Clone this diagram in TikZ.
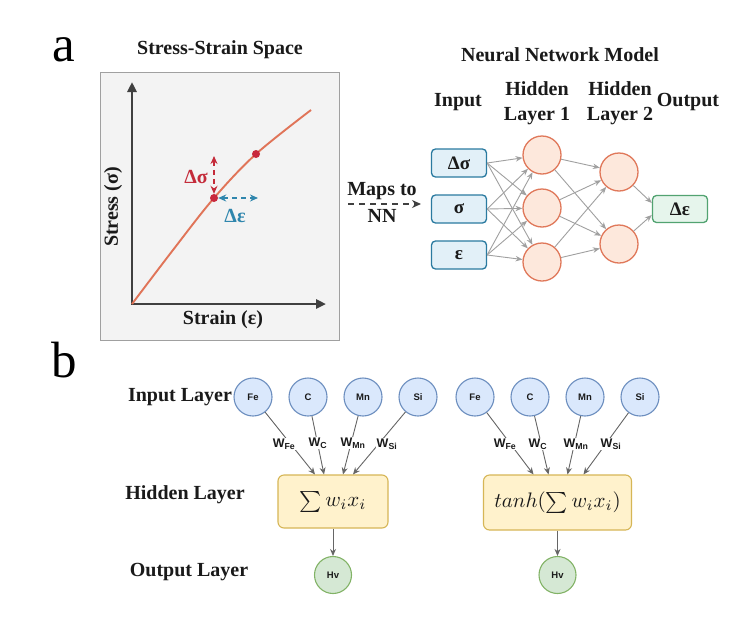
\RequirePackage{fix-cm}
\documentclass[tikz,border=0pt]{standalone}
\usepackage{graphicx}
\usepackage[no-math]{fontspec}
\setmainfont{Liberation Serif}
\newfontfamily\sansf{Liberation Sans}
\usetikzlibrary{arrows.meta,calc}
\definecolor{plotbg}{HTML}{F3F3F3}
\definecolor{plotframe}{HTML}{A0A0A0}
\definecolor{axisgray}{HTML}{404040}
\definecolor{curvec}{HTML}{E07458}
\definecolor{dotred}{HTML}{C8283C}
\definecolor{sigred}{HTML}{C42B3A}
\definecolor{epsblue}{HTML}{2F86AD}
\definecolor{inblue}{HTML}{2A7AA0}
\definecolor{infill}{HTML}{E2F0F8}
\definecolor{hidline}{HTML}{E0785A}
\definecolor{hidfill}{HTML}{FDE8DC}
\definecolor{outline}{HTML}{52A371}
\definecolor{outfill}{HTML}{E6F5EC}
\definecolor{nngray}{HTML}{A0A0A0}
\definecolor{bblue}{HTML}{6C8EBF}
\definecolor{bbluefill}{HTML}{DAE8FC}
\definecolor{byellow}{HTML}{D6B656}
\definecolor{byellowfill}{HTML}{FFF2CC}
\definecolor{bgreen}{HTML}{82B366}
\definecolor{bgreenfill}{HTML}{D5E8D4}
\definecolor{bedgec}{HTML}{666666}
\definecolor{txt}{HTML}{1A1A1A}
\begin{document}
\begin{tikzpicture}[x=1pt,y=-1pt,
  lbl/.style={font=\fontsize{20}{25}\selectfont\bfseries, text=txt, align=center, inner sep=0pt},
  panel/.style={font=\fontsize{51}{55}\selectfont, text=black, inner sep=0pt},
  inbox/.style={draw=inblue, fill=infill, line width=1.3pt, rounded corners=4pt,
    minimum width=55pt, minimum height=28pt, inner sep=0pt,
    font=\fontsize{19}{22}\selectfont\bfseries, text=txt},
  outbox/.style={draw=outline, fill=outfill, line width=1.3pt, rounded corners=4pt,
    minimum width=55pt, minimum height=27pt, inner sep=0pt,
    font=\fontsize{19}{22}\selectfont\bfseries, text=txt},
  hid/.style={circle, draw=hidline, fill=hidfill, line width=1.3pt, minimum size=38pt, inner sep=0pt},
  nnarrow/.style={draw=nngray, line width=0.9pt, -{Stealth[length=7pt,width=5.5pt]}},
  dot/.style={circle, fill=dotred, minimum size=8pt, inner sep=0pt},
  axisline/.style={draw=axisgray, line width=2.5pt, line join=miter,
    {Triangle[length=10pt,width=9pt]}-{Triangle[length=10pt,width=9pt]}},
  sigarr/.style={draw=sigred, line width=1.6pt, dash pattern=on 5pt off 4pt,
    {Stealth[length=8pt,width=7pt]}-{Stealth[length=8pt,width=7pt]}},
  epsarr/.style={draw=epsblue, line width=1.6pt, dash pattern=on 5pt off 4pt,
    {Stealth[length=8pt,width=7pt]}-{Stealth[length=8pt,width=7pt]}},
  mapsarr/.style={draw=axisgray, line width=1.5pt, dash pattern=on 6pt off 5pt,
    -{Stealth[length=9pt,width=8pt]}},
  incirc/.style={circle, draw=bblue, fill=bbluefill, line width=1.1pt, minimum size=38pt,
    inner sep=0pt, font=\sansf\bfseries\fontsize{9.5}{11}\selectfont, text=txt},
  hvcirc/.style={circle, draw=bgreen, fill=bgreenfill, line width=1.1pt, minimum size=37pt,
    inner sep=0pt, font=\sansf\bfseries\fontsize{9.5}{11}\selectfont, text=txt},
  hbox/.style={draw=byellow, fill=byellowfill, line width=1.1pt, rounded corners=6pt,
    inner sep=0pt, font=\normalsize, text=txt},
  bedge/.style={draw=bedgec, line width=0.9pt, -{Stealth[length=7pt,width=6pt]}},
  wlab/.style={fill=white, inner sep=1pt, font=\sansf\bfseries\fontsize{12.5}{14}\selectfont, text=txt}
]
\useasboundingbox[fill=white] (0,0) rectangle (754,616);

% panel letters
\node[panel] (pa) at (64,50) {a};
\node[panel] (pb) at (64,360) {b};

% ---------- Stress-strain panel ----------
\node[lbl] (sstitle) at (220,50) {Stress-Strain Space};
\node[draw=plotframe, fill=plotbg, line width=1pt, minimum width=239pt, minimum height=268pt, inner sep=0pt] (ssbox) at (219.5,206) {};
\coordinate (O) at (132,304);
\coordinate (ytop) at (132,82);
\coordinate (xend) at (326,304);
\draw[axisline] (ytop) -- (O) -- (xend);
\draw[curvec, line width=1.9pt] plot[smooth, tension=0.55] coordinates {(132,304) (173,250) (214,198) (256,154) (311,110)};
\node[dot] (p1) at (214,198) {};
\node[dot] (p2) at (256,154) {};
\coordinate (sigtop) at (214,156);
\coordinate (epsend) at (258,198);
\draw[sigarr] (sigtop) -- (p1.north);
\draw[epsarr] (p1.east) -- (epsend);
\node[lbl, text=sigred] (dsig) at (196,177) {Δσ};
\node[lbl, text=epsblue] (deps) at (235,216) {Δε};
\node[lbl] (xlab) at (223,320) {Strain (ε)};
\node[lbl, rotate=90] (ylab) at (113,207) {Stress (σ)};

% ---------- Maps to ----------
\coordinate (m1) at (348,204);
\coordinate (m2) at (421,204);
\draw[mapsarr] (m1) -- (m2);
\node[lbl] (maps) at (382,191) {Maps to};
\node[lbl] (nn) at (382,216) {NN};

% ---------- Neural network ----------
\node[lbl] (nntitle) at (560,55) {Neural Network Model};
\node[lbl] (tin) at (458,102) {Input};
\node[lbl] (th1) at (537,103) {Hidden\\Layer 1};
\node[lbl] (th2) at (620,103) {Hidden\\Layer 2};
\node[lbl] (tout) at (688,102) {Output};

\node[inbox] (in1) at (459,163) {Δσ};
\node[inbox] (in2) at (459,209) {σ};
\node[inbox] (in3) at (459,255) {ε};
\node[hid] (h11) at (542,155) {};
\node[hid] (h12) at (542,208) {};
\node[hid] (h13) at (542,262) {};
\node[hid] (h21) at (619,172) {};
\node[hid] (h22) at (619,244) {};
\node[outbox] (out) at (680,209) {Δε};

\foreach \i in {1,2,3}{
  \foreach \j in {1,2,3}{
    \draw[nnarrow] (in\i.east) -- (h1\j);
  }
}
\foreach \i in {1,2,3}{
  \foreach \j in {1,2}{
    \draw[nnarrow] (h1\i) -- (h2\j);
  }
}
\draw[nnarrow] (h21) -- (out.168);
\draw[nnarrow] (h22) -- (out.192);

% ---------- Panel b ----------
\node[lbl] (til) at (180,397) {Input Layer};
\node[lbl] (thl) at (185,495) {Hidden Layer};
\node[lbl] (tol) at (189,572) {Output Layer};

% left network
\node[incirc] (fe1) at (253,397) {Fe};
\node[incirc] (c1) at (308,397) {C};
\node[incirc] (mn1) at (363,397) {Mn};
\node[incirc] (si1) at (418,397) {Si};
\node[hbox, minimum width=110pt, minimum height=53pt] (hl) at (333,501.5) {\scalebox{2.1}{$\sum w_i x_i$}};
\node[hvcirc] (hv1) at (333,575) {Hv};
\draw[bedge] (fe1) -- ($(hl.north)+(-18,0)$);
\draw[bedge] (c1) -- ($(hl.north)+(-9,0)$);
\draw[bedge] (mn1) -- ($(hl.north)+(10,0)$);
\draw[bedge] (si1) -- ($(hl.north)+(20,0)$);
\node[wlab] (wfe1) at (284,444) {W\textsubscript{Fe}};
\node[wlab] (wc1) at (318,443) {W\textsubscript{C}};
\node[wlab] (wmn1) at (353,443) {W\textsubscript{Mn}};
\node[wlab] (wsi1) at (387,444) {W\textsubscript{Si}};
\draw[bedge] (hl) -- (hv1);

% right network
\node[incirc] (fe2) at (475,397) {Fe};
\node[incirc] (c2) at (530,397) {C};
\node[incirc] (mn2) at (585,397) {Mn};
\node[incirc] (si2) at (640,397) {Si};
\node[hbox, minimum width=148pt, minimum height=55pt] (hr) at (557.5,502.5) {\scalebox{2.1}{$tanh(\sum w_i x_i)$}};
\node[hvcirc] (hv2) at (557.5,575) {Hv};
\draw[bedge] (fe2) -- ($(hr.north)+(-24,0)$);
\draw[bedge] (c2) -- ($(hr.north)+(-9,0)$);
\draw[bedge] (mn2) -- ($(hr.north)+(10,0)$);
\draw[bedge] (si2) -- ($(hr.north)+(26,0)$);
\node[wlab] (wfe2) at (505,444) {W\textsubscript{Fe}};
\node[wlab] (wc2) at (538,444) {W\textsubscript{C}};
\node[wlab] (wmn2) at (576,444) {W\textsubscript{Mn}};
\node[wlab] (wsi2) at (611,444) {W\textsubscript{Si}};
\draw[bedge] (hr) -- (hv2);
\end{tikzpicture}
\end{document}
